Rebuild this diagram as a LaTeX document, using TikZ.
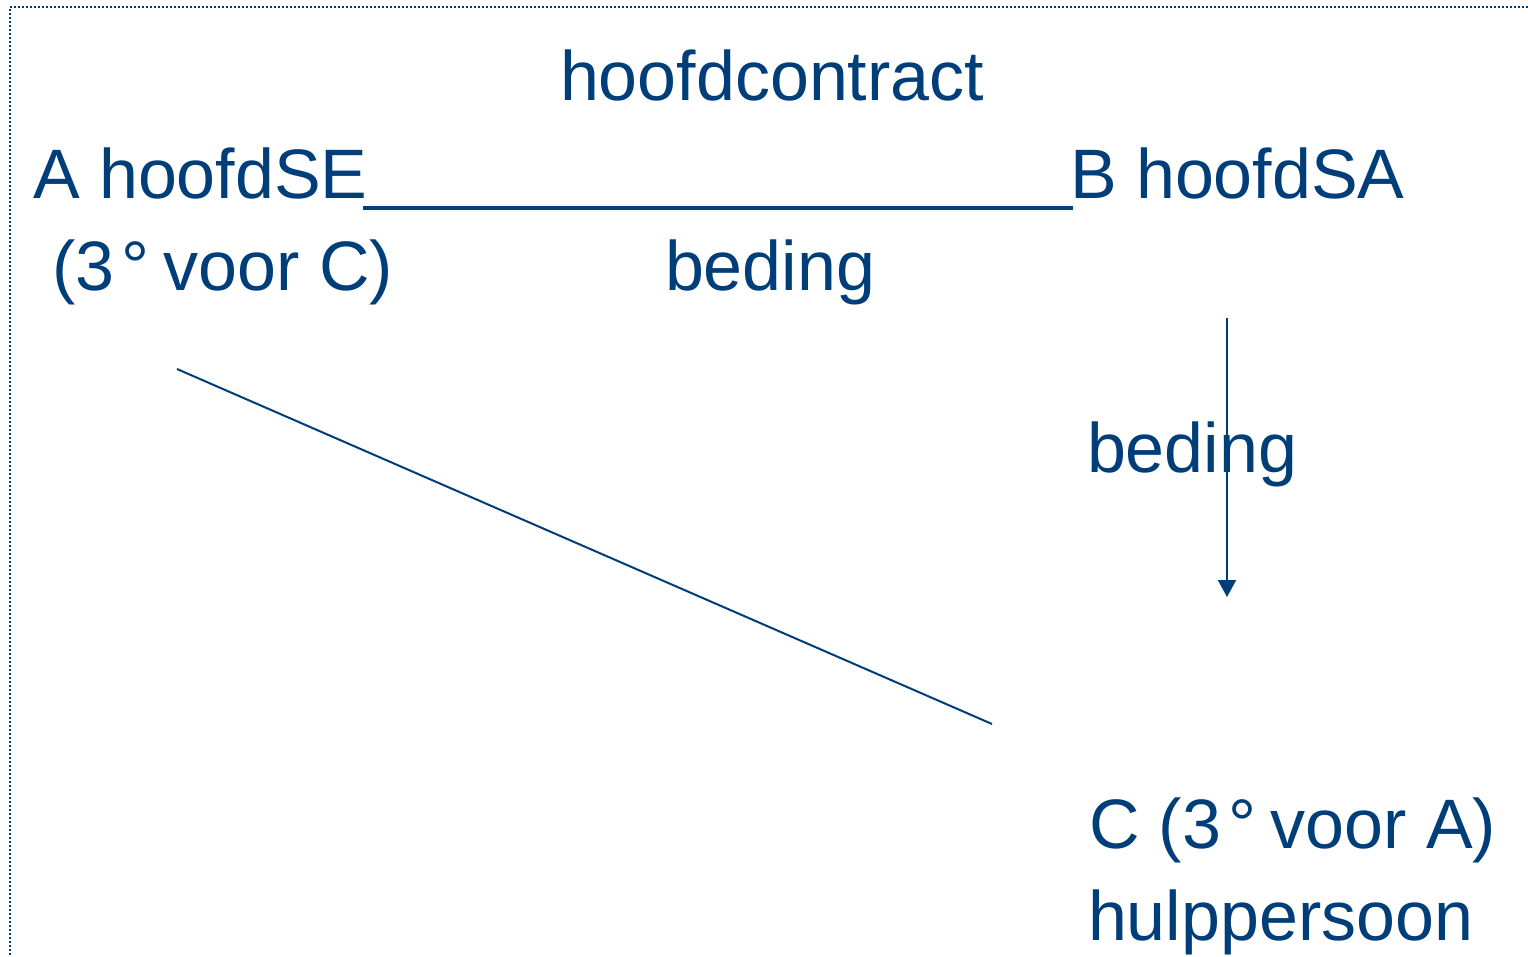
\documentclass[tikz,border=0pt]{standalone}
\usepackage{fontspec}
\setmainfont{Liberation Sans}
\usetikzlibrary{arrows.meta}
\definecolor{navy}{RGB}{0,62,122}
\newcommand{\dg}{\kern7pt°\kern-5pt}
\begin{document}
\begin{tikzpicture}[x=1pt,y=-1pt,
  lbl/.style={inner sep=0pt,outer sep=0pt,anchor=base west,text=navy,
    font=\fontsize{70}{84}\selectfont},
  conn/.style={draw=navy,line width=2pt},
  frame/.style={draw=navy,line width=2pt,dash pattern=on 2pt off 2pt}]
\useasboundingbox (0,0) rectangle (1528,956);
\fill[white] (0,0) rectangle (1528,956);
% dotted frame
\coordinate (f1) at (1528,7);
\coordinate (f2) at (10,7);
\coordinate (f3) at (10,956);
\draw[frame] (f1) -- (f2) -- (f3);
% texts
\node[lbl] (hc) at (560,100) {hoofdcontract};
\node[lbl] (A) at (33,198) {A hoofdSE};
\node[lbl] (B) at (1070,198) {B hoofdSA};
\node[lbl] (A2) at (52,290) {(3\dg\ voor C)};
\node[lbl] (bed1) at (665,290) {beding};
\node[lbl] (bed2) at (1087,472) {beding};
\node[lbl] (C) at (1089,848) {C (3\dg\ voor A)};
\node[lbl] (C2) at (1088,940) {hulppersoon};
% connectors
\draw[draw=navy,line width=4pt] ([xshift=-5pt,yshift=-10pt]A.base east) -- ([xshift=3pt,yshift=-10pt]B.base west);
\coordinate (v1) at (1227,318);
\coordinate (v2) at (1227,597);
\draw[conn,-{Triangle[width=18pt,length=17pt]},fill=navy] (v1) -- (v2);
\coordinate (d1) at (177,369);
\coordinate (d2) at (992,724);
\draw[conn] (d1) -- (d2);
\end{tikzpicture}
\end{document}
